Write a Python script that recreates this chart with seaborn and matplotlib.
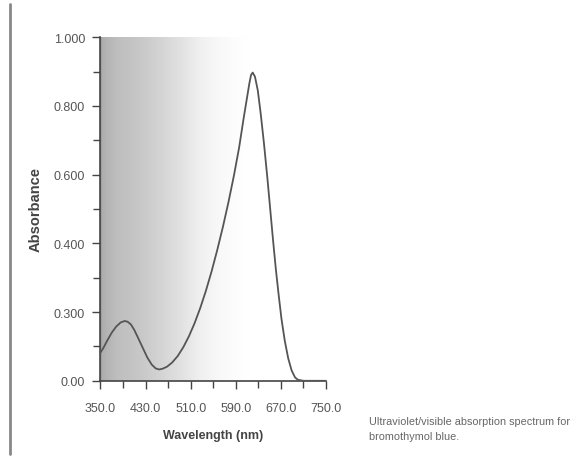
import numpy as np
import pandas as pd
import matplotlib
matplotlib.use("Agg")
import matplotlib.pyplot as plt
import seaborn as sns

# spectrum
wavelength = [350, 355, 362, 370, 378, 386, 393, 398, 404, 410, 417, 425, 433,
              441, 448, 454, 460, 468, 477, 487, 497, 507, 517, 527, 537, 547,
              557, 567, 577, 587, 596, 604, 610, 614, 617, 620, 624, 629, 634,
              640, 646, 651, 656, 661, 666, 671, 677, 683, 689, 695, 700, 710, 750]
absorbance = [0.082, 0.095, 0.117, 0.140, 0.158, 0.170, 0.174, 0.172, 0.164, 0.148,
              0.124, 0.096, 0.068, 0.047, 0.036, 0.033, 0.035, 0.041, 0.053, 0.072,
              0.098, 0.130, 0.168, 0.212, 0.262, 0.318, 0.380, 0.447, 0.520, 0.600,
              0.680, 0.765, 0.825, 0.865, 0.890, 0.897, 0.885, 0.845, 0.780, 0.690,
              0.590, 0.500, 0.410, 0.325, 0.250, 0.180, 0.115, 0.065, 0.030, 0.010,
              0.003, 0.0, 0.0]

x_ticks = [350, 430, 510, 590, 670, 750]
x_labels = ["350.0", "430.0", "510.0", "590.0", "670.0", "750.0"]
y_ticks = [0.0, 0.2, 0.4, 0.6, 0.8, 1.0]
y_labels = ["0.00", "0.300", "0.400", "0.600", "0.800", "1.000"]

# shading of the scan behind the curve (darkness vs wavelength)
shade_x = [350, 354, 380, 420, 460, 500, 530, 560, 590, 620]
shade_v = [0.52, 0.42, 0.37, 0.33, 0.27, 0.19, 0.12, 0.06, 0.02, 0.0]

df = pd.DataFrame({"Wavelength": wavelength, "Absorbance": absorbance})

sns.set_theme(style="white")
plt.rcParams['font.family'] = ['Liberation Sans', 'DejaVu Sans']

fig = plt.figure(figsize=(5.74, 4.60), dpi=100)
ax = fig.add_axes([0.175, 0.17, 0.393, 0.747])

grid = np.linspace(350, 750, 400)
shade = np.interp(grid, shade_x, shade_v)
ax.imshow(shade[np.newaxis, :], extent=(350, 750, 0, 1), aspect='auto',
          cmap='Greys', vmin=0, vmax=1, zorder=0, interpolation='bilinear')

sns.lineplot(data=df, x="Wavelength", y="Absorbance", ax=ax,
             color="#555555", linewidth=1.3, zorder=3)

ax.set_xlim(350, 750)
ax.set_ylim(0, 1.0)
ax.set_xticks(x_ticks)
ax.set_xticklabels(x_labels)
ax.set_xticks([390, 470, 550, 630, 710], minor=True)
ax.set_yticks(y_ticks)
ax.set_yticklabels(y_labels)
ax.set_yticks([0.1, 0.3, 0.5, 0.7, 0.9], minor=True)

for s in ["top", "right"]:
    ax.spines[s].set_visible(False)
for s in ["left", "bottom"]:
    ax.spines[s].set_color("#444444")
    ax.spines[s].set_linewidth(1.2)

ax.tick_params(which="both", direction="out", colors="#444444", labelcolor="#555555",
               labelsize=9, left=True, bottom=True)
ax.tick_params(which="major", length=6, width=1)
ax.tick_params(which="minor", length=5, width=1)
ax.tick_params(axis="x", which="major", pad=9)
ax.tick_params(axis="y", which="major", pad=5)

ax.set_xlabel("Wavelength (nm)", fontsize=9, fontweight="bold", color="#444444", labelpad=11)
ax.set_ylabel("Absorbance", fontsize=10.5, fontweight="bold", color="#444444", labelpad=8)

fig.text(0.643, 0.066, "Ultraviolet/visible absorption spectrum for\nbromothymol blue.",
         fontsize=7.8, color="#666666", va="center", ha="left", linespacing=1.7)

# page border line at the left of the scan
fig.add_artist(plt.Line2D([0.018, 0.018], [0.01, 0.99], color="#888888", linewidth=2))

fig.savefig("out.png", dpi=100)
